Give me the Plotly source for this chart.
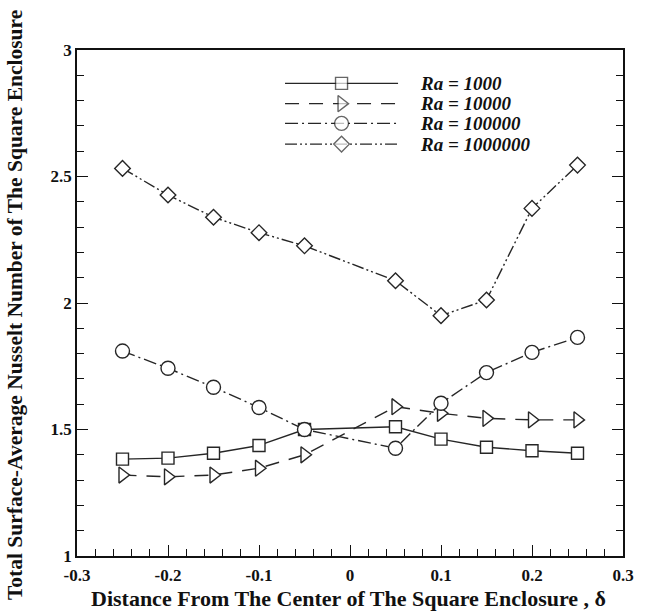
import plotly.graph_objects as go

# ---- data ----
delta = [-0.25, -0.2, -0.15, -0.1, -0.05, 0.05, 0.1, 0.15, 0.2, 0.25]
nu_ra1e3 = [1.383, 1.387, 1.406, 1.437, 1.500, 1.511, 1.462, 1.430, 1.416, 1.406]
nu_ra1e4 = [1.320, 1.313, 1.320, 1.347, 1.400, 1.590, 1.564, 1.544, 1.538, 1.538]
nu_ra1e5 = [1.810, 1.742, 1.667, 1.587, 1.500, 1.426, 1.604, 1.725, 1.805, 1.864]
nu_ra1e6 = [2.532, 2.427, 2.339, 2.278, 2.226, 2.088, 1.950, 2.012, 2.374, 2.545]
series_names = ["Ra = 1000", "Ra = 10000", "Ra = 100000", "Ra = 1000000"]
x_ticks = [-0.3, -0.2, -0.1, 0, 0.1, 0.2, 0.3]
x_ticklabels = ["-0.3", "-0.2", "-0.1", "0", "0.1", "0.2", "0.3"]
y_ticks = [1, 1.5, 2, 2.5, 3]
y_ticklabels = ["1", "1.5", "2", "2.5", "3"]
x_title = "Distance From The Center of The Square Enclosure , δ"
y_title = "Total Surface-Average Nusselt Number of The Square Enclosure"

series = [nu_ra1e3, nu_ra1e4, nu_ra1e5, nu_ra1e6]
symbols = ["square", "triangle-right", "circle", "diamond"]
sizes = [12, 14, 14, 12]
dashes = ["solid", "14px,10px", "13px,4px,2px,4px", "12px,3px,2px,3px,2px,3px"]

INK = "#111111"
LINE = "#262626"
FONT = "Liberation Serif"

fig = go.Figure()
for ys, sym, sz, dsh in zip(series, symbols, sizes, dashes):
    fig.add_trace(go.Scatter(
        x=delta, y=ys, mode="lines+markers",
        line=dict(color=LINE, width=1.4, dash=dsh),
        marker=dict(symbol=sym, size=sz, color="white",
                    line=dict(color=LINE, width=1.4)),
        showlegend=False, cliponaxis=False))

# ---- manual legend (line samples on an overlay axis in paper-like units) ----
leg_y = [0.934, 0.894, 0.855, 0.814]
lx0, lxm, lx1 = 0.381, 0.4845, 0.588
for name, yy, sym, sz, dsh in zip(series_names, leg_y, symbols, sizes, dashes):
    fig.add_trace(go.Scatter(
        x=[lx0, lxm, lx1], y=[yy, yy, yy], mode="lines+markers",
        xaxis="x2", yaxis="y2",
        line=dict(color=LINE, width=1.4, dash=dsh),
        marker=dict(symbol=sym, size=[0, sz, 0], color="white",
                    line=dict(color=LINE, width=[0, 1.4, 0])),
        showlegend=False, hoverinfo="skip", cliponaxis=False))
    fig.add_annotation(x=0.6245, y=yy, xref="paper", yref="paper",
                       text="<b><i>" + name + "</i></b>", showarrow=False,
                       xanchor="left", yanchor="middle",
                       font=dict(family=FONT, size=19, color=INK))

# axis titles as annotations for precise placement
fig.add_annotation(x=(348 - 77) / 546, y=-(598 - 556) / 506, xref="paper", yref="paper",
                   text="<b>" + x_title + "</b>", showarrow=False,
                   xanchor="center", yanchor="middle",
                   font=dict(family=FONT, size=22, color=INK))
fig.add_annotation(x=-(77 - 15) / 546, y=(556 - 305) / 506, xref="paper", yref="paper",
                   text="<b>" + y_title + "</b>", showarrow=False, textangle=-90,
                   xanchor="center", yanchor="middle",
                   font=dict(family=FONT, size=21.5, color=INK))

axis_common = dict(
    showgrid=False, zeroline=False, showline=True, linecolor=INK, linewidth=1.6,
    ticks="inside", ticklen=11, tickwidth=1.4, tickcolor=INK,
    tickfont=dict(family=FONT, size=17, color=INK, weight="bold"),
)

fig.update_layout(
    width=649, height=613,
    margin=dict(l=77, r=26, t=50, b=57),
    paper_bgcolor="white", plot_bgcolor="white",
    xaxis=dict(range=[-0.3, 0.3], tickvals=x_ticks, ticktext=x_ticklabels,
               mirror=True, ticklabelstandoff=3,
               minor=dict(dtick=0.02, ticks="inside", ticklen=7, tickwidth=1.2,
                          tickcolor=INK),
               **axis_common),
    yaxis=dict(range=[1, 3], tickvals=y_ticks, ticktext=y_ticklabels,
               mirror="ticks",
               minor=dict(dtick=0.1, ticks="inside", ticklen=7, tickwidth=1.2,
                          tickcolor=INK),
               **axis_common),
    xaxis2=dict(range=[0, 1], overlaying="x", visible=False, fixedrange=True),
    yaxis2=dict(range=[0, 1], overlaying="y", visible=False, fixedrange=True),
)

fig.write_html("out.html")
